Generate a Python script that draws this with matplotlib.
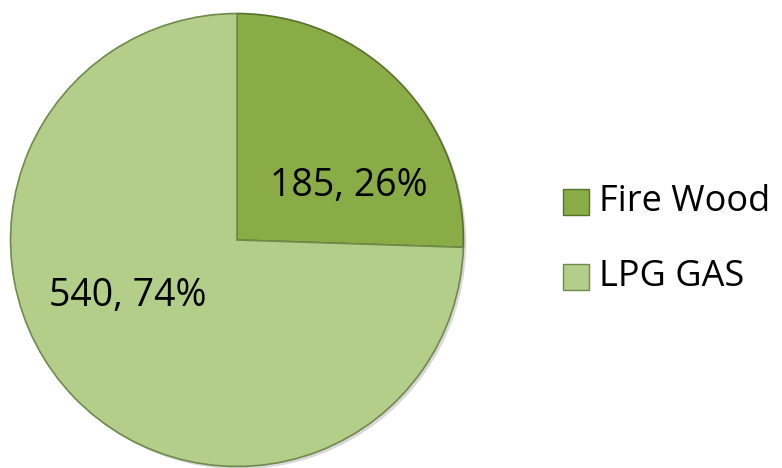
import numpy as np
import matplotlib.pyplot as plt
from matplotlib.patches import Rectangle

labels = ['Fire Wood', 'LPG GAS']
values = [185, 540]
percents = ['26%', '74%']
colors = ['#89ac46', '#b3ce89']
edge_colors = ['#55722a', '#6f8a4c']

W, H = 782, 468
fig = plt.figure(figsize=(W / 100, H / 100), dpi=100)
fig.patch.set_facecolor('white')

# pie axes: centre (237, 240), pie radius about 226 px
r = 231
cx, cy = 237, 240
ax = fig.add_axes([(cx - r) / W, (H - cy - r) / H, 2 * r / W, 2 * r / H])

# soft shadow under the pie
ax.pie(values, colors=['#d8d8d8', '#d8d8d8'], startangle=90, counterclock=False,
       radius=1.0, center=(0.012, -0.012), wedgeprops=dict(linewidth=0))
wedges, _ = ax.pie(values, colors=colors, startangle=90, counterclock=False,
                   radius=1.0)
for w, ec in zip(wedges, edge_colors):
    w.set_edgecolor(ec)
    w.set_linewidth(1.2)

ax.set_xlim(-1.02, 1.02)
ax.set_ylim(-1.02, 1.02)
ax.set_aspect('equal')
ax.axis('off')

font = 'Open Sans'
txt = [f'{v}, {p}' for v, p in zip(values, percents)]
fig.text(349 / W, 1 - 186 / H, txt[0], fontsize=27, family=font,
         ha='center', va='center', color='black')
fig.text(128 / W, 1 - 296 / H, txt[1], fontsize=27, family=font,
         ha='center', va='center', color='black')

# legend
leg_y = [202, 277]
for lab, c, ec, y in zip(labels, colors, edge_colors, leg_y):
    fig.patches.append(Rectangle((563 / W, 1 - (y + 13) / H), 26 / W, 26 / H,
                                 transform=fig.transFigure, facecolor=c,
                                 edgecolor=ec, linewidth=1))
    fig.text(599 / W, 1 - y / H, lab, fontsize=26, family=font,
             ha='left', va='center', color='black')

fig.savefig('out.png', dpi=100)
